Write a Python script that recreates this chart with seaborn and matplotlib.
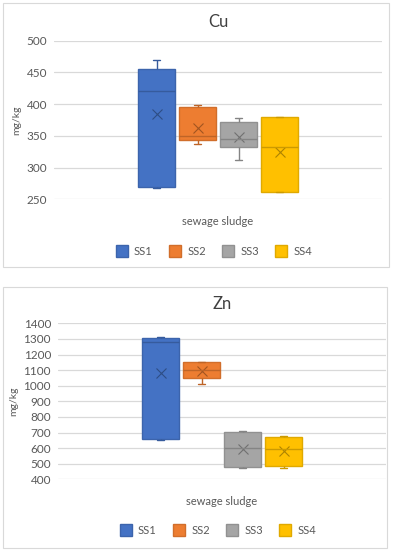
import matplotlib
matplotlib.use("Agg")
import matplotlib.pyplot as plt
import matplotlib.colors as mcolors
from matplotlib.patches import Rectangle
import seaborn as sns
import pandas as pd
import numpy as np

series = ["SS1", "SS2", "SS3", "SS4"]
colors = ["#4472C4", "#ED7D31", "#A5A5A5", "#FFC000"]
category = "sewage sludge"

# five-number summaries: min, q1, median, q3, max
cu_ss1 = [268, 269, 421, 456, 469]
cu_ss2 = [337, 344, 350, 395, 399]
cu_ss3 = [312, 332, 345, 372, 378]
cu_ss4 = [261, 262, 332, 379, 380]
cu_means = [384, 363, 348, 325]

zn_ss1 = [654, 661, 1280, 1308, 1312]
zn_ss2 = [1011, 1047, 1101, 1150, 1154]
zn_ss3 = [475, 477, 599, 701, 708]
zn_ss4 = [475, 488, 594, 671, 680]
zn_means = [1082, 1094, 594, 584]

cu_ticks = [250, 300, 350, 400, 450, 500]
zn_ticks = [400, 500, 600, 700, 800, 900, 1000, 1100, 1200, 1300, 1400]

FONT = ["Lato", "DejaVu Sans"]
TXT = "#595959"


def darker(c, f=0.75):
    r, g, b = mcolors.to_rgb(c)
    return (r * f, g * f, b * f)


def make_df(groups):
    rows = []
    for name, vals in zip(series, groups):
        for v in vals:
            rows.append({"group": category, "series": name, "value": v})
    return pd.DataFrame(rows)


def draw_panel(fig, rect, title, groups, means, ticks):
    ax = fig.add_axes(rect)
    df = make_df(groups)
    sns.boxplot(data=df, x="group", y="value", hue="series", hue_order=series,
                palette=colors, whis=(0, 100), width=0.5, gap=0.08,
                linewidth=1.0, linecolor="#555555", capwidths=0.022,
                legend=False, ax=ax)

    # box centres from the drawn patches, left to right = hue order
    boxes = sorted(ax.patches, key=lambda p: p.get_path().vertices[:, 0].mean())
    centres = []
    for box, c in zip(boxes, colors):
        box.set_edgecolor(darker(c, 0.88))
        box.set_facecolor(c)
        verts = box.get_path().vertices
        centres.append((verts[:, 0].min() + verts[:, 0].max()) / 2)
    for ln in ax.lines:
        xm = np.mean(ln.get_xdata())
        i = int(np.argmin([abs(xm - cx) for cx in centres]))
        ln.set_color(darker(colors[i], 0.8))
        ln.set_linewidth(1.0)
    for cx, m, c in zip(centres, means, colors):
        ax.plot([cx], [m], marker="x", markersize=6.5, mew=0.8,
                color=darker(c, 0.68), linestyle="none")

    ax.set_ylim(ticks[0], ticks[-1])
    ax.set_yticks(ticks)
    ax.set_yticklabels([str(t) for t in ticks], fontsize=8.5, color=TXT,
                       family=FONT)
    ax.set_xticks([])
    ax.set_xlim(-0.5, 0.5)
    ax.grid(axis="y", color="#D9D9D9", linewidth=0.9)
    ax.set_axisbelow(True)
    for s in ax.spines.values():
        s.set_visible(False)
    ax.tick_params(axis="y", length=0, pad=5)
    ax.set_ylabel("mg/kg", fontsize=7.5, color=TXT, family=FONT, labelpad=4)
    ax.set_xlabel(category, fontsize=8, color=TXT, family=FONT, labelpad=12)
    ax.set_title(title, fontsize=12, color="#404040", family=FONT, pad=10)

    handles = [plt.Line2D([], [], marker="s", linestyle="none", markersize=8,
                          markerfacecolor=c, markeredgecolor=darker(c, 0.88))
               for c in colors]
    ax.legend(handles, series, loc="upper center", bbox_to_anchor=(0.48, -0.23),
              ncol=4, frameon=False, handletextpad=0.1, columnspacing=1.0,
              prop={"family": FONT, "size": 8}, labelcolor=TXT)
    return ax


sns.set_style("white")
fig = plt.figure(figsize=(3.95, 5.5), dpi=100)

# chart area borders
fig.patches.append(Rectangle((3 / 395, 1 - 267 / 550), 386 / 395, 264 / 550,
                             transform=fig.transFigure, fill=False,
                             edgecolor="#D9D9D9", linewidth=0.8))
fig.patches.append(Rectangle((3 / 395, 1 - 548 / 550), 384 / 395, 261 / 550,
                             transform=fig.transFigure, fill=False,
                             edgecolor="#D9D9D9", linewidth=0.8))

draw_panel(fig, [54 / 395, 1 - 199.3 / 550, 328 / 395, 158.6 / 550], "Cu",
           [cu_ss1, cu_ss2, cu_ss3, cu_ss4], cu_means, cu_ticks)
draw_panel(fig, [58 / 395, 1 - 479.3 / 550, 328 / 395, 156 / 550], "Zn",
           [zn_ss1, zn_ss2, zn_ss3, zn_ss4], zn_means, zn_ticks)

fig.savefig("out.png", dpi=100)
